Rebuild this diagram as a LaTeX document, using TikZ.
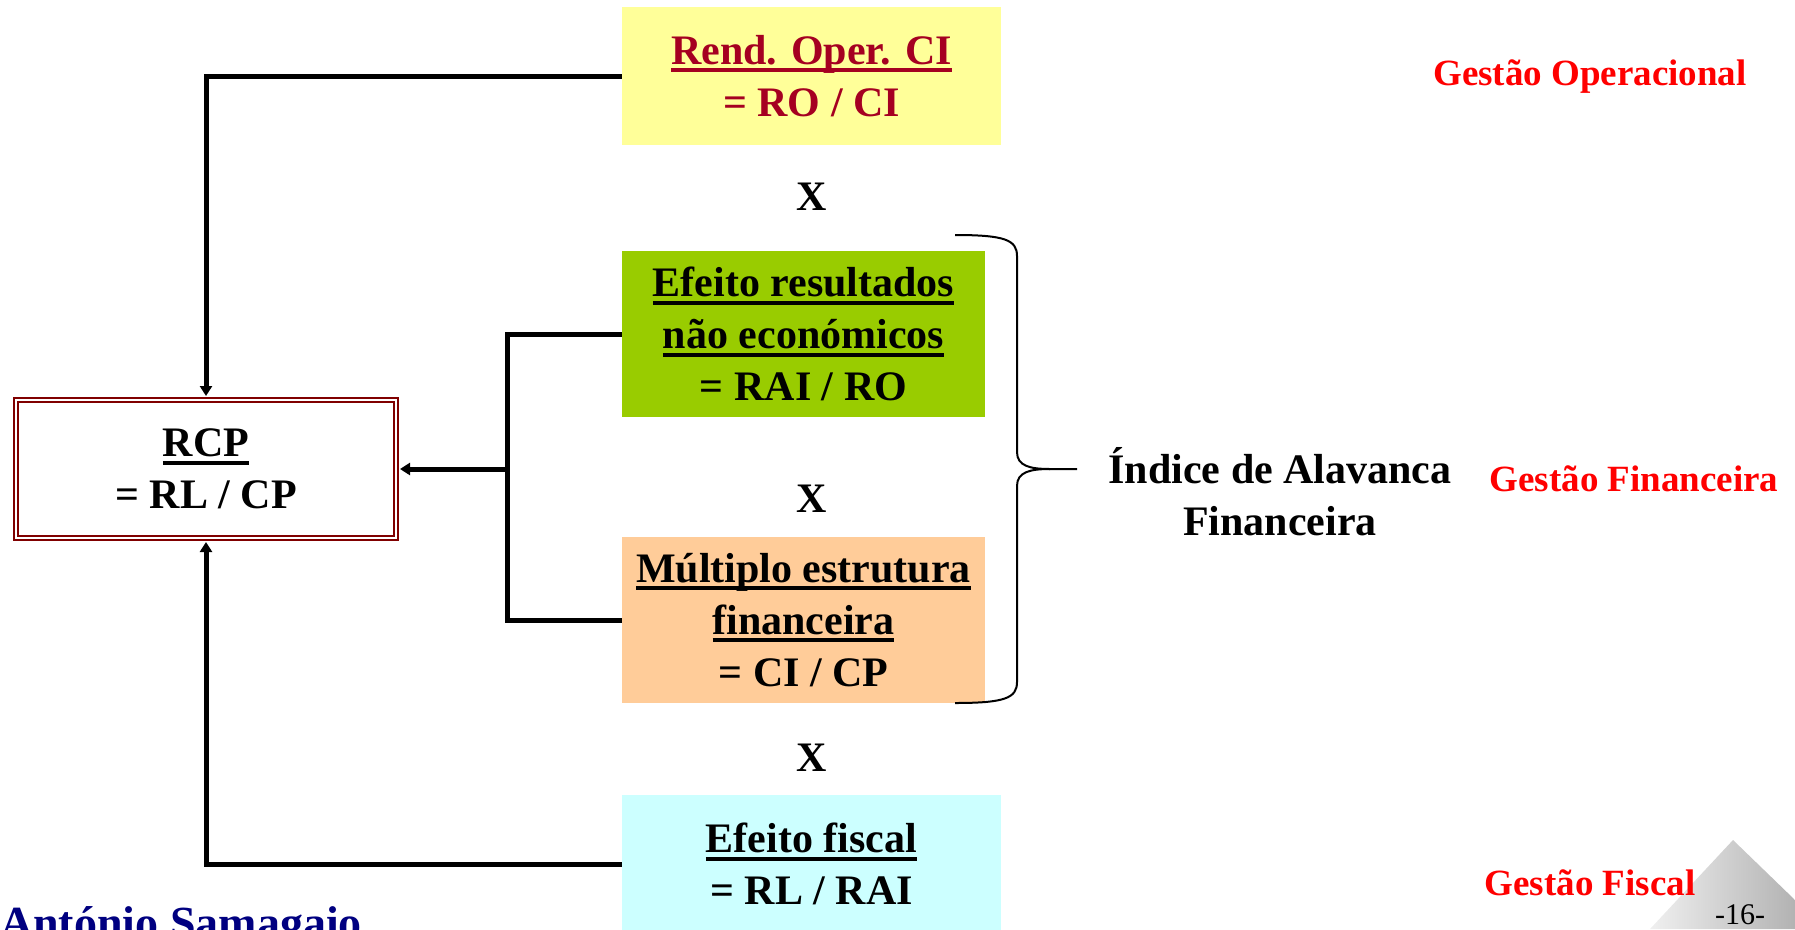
\documentclass[tikz,border=0pt]{standalone}
\usepackage{fontspec}
\setmainfont{Liberation Serif}
\usetikzlibrary{arrows.meta}

\definecolor{boxyellow}{HTML}{FFFF99}
\definecolor{boxgreen}{HTML}{99CC00}
\definecolor{boxorange}{HTML}{FFCC99}
\definecolor{boxcyan}{HTML}{CCFFFF}
\definecolor{winered}{HTML}{A50021}
\definecolor{framered}{HTML}{800000}
\definecolor{authornavy}{HTML}{000080}

% thick underline for the ratio titles
\newcommand{\ulin}[1]{\setbox0=\hbox{#1}\rlap{\rule[-8pt]{\wd0}{4pt}}\box0}

\begin{document}
\begin{tikzpicture}[x=1pt, y=-1pt,
  big/.style={font=\fontsize{42}{52}\selectfont\bfseries, align=center},
  ratiobox/.style={big, inner sep=0pt, minimum width=363pt, minimum height=166pt},
  widebox/.style={ratiobox, minimum width=379pt, minimum height=138pt},
  mgmt/.style={font=\fontsize{37}{44}\selectfont\bfseries, text=red},
  conn/.style={line width=5pt},
  arr/.style={conn, -{Triangle[length=10pt,width=12pt]}, shorten >=3pt}]

  \useasboundingbox (0,0) rectangle (1795,929);

  % page corner
  \shade[left color=gray!12, right color=gray!60] (1650,929) -- (1733,840) -- (1795,900) -- (1795,929) -- cycle;
  \node[font=\fontsize{30}{36}\selectfont] (page) at (1740,915) {-16-};

  % ratio boxes
  \node[widebox, fill=boxyellow, text=winered] (rend) at (811.5,76) {\ulin{Rend. Oper. CI}\\= RO / CI};
  \node[ratiobox, fill=boxgreen] (efres) at (803.5,334) {\ulin{Efeito resultados}\\\ulin{não económicos}\\= RAI / RO};
  \node[ratiobox, fill=boxorange] (mult) at (803.5,620) {\ulin{Múltiplo estrutura}\\\ulin{financeira}\\= CI / CP};
  \node[widebox, fill=boxcyan] (fisc) at (811.5,864) {\ulin{Efeito fiscal}\\= RL / RAI};

  % result box
  \node[big, inner sep=0pt, minimum width=380pt, minimum height=138pt,
        draw=framered, line width=2pt, double=white, double distance=2pt] (rcp) at (206,469) {\ulin{RCP}\\= RL / CP};

  % multiplication signs
  \node[big] (x1) at (812,197) {X};
  \node[big] (x2) at (812,499) {X};
  \node[big] (x3) at (812,758) {X};

  % connectors
  \coordinate (jn) at (507,469);
  \draw[arr] (rend.west) -| (rcp.north);
  \draw[arr] (fisc.west) -| (rcp.south);
  \draw[conn] (efres.west) -| (jn) |- (mult.west);
  \draw[arr] (jn) -- (rcp.east);

  % brace
  \draw[line width=2pt] (955,235) .. controls (1005,235) and (1017,240) .. (1017,256) -- (1017,452)
    .. controls (1017,466) and (1030,469) .. (1050,469) -- (1077,469);
  \draw[line width=2pt] (955,703) .. controls (1005,703) and (1017,698) .. (1017,682) -- (1017,486)
    .. controls (1017,472) and (1030,469) .. (1050,469);
  \node[big] (lev) at (1280,492) {Índice de Alavanca\\Financeira};

  % management areas
  \node[mgmt] (gop) at (1590,77) {Gestão Operacional};
  \node[mgmt] (gfin) at (1634,479) {Gestão Financeira};
  \node[mgmt] (gfis) at (1590,883) {Gestão Fiscal};

  % author
  \node[font=\fontsize{46}{52}\selectfont\bfseries, text=authornavy, anchor=base west, inner sep=0pt] (auth) at (0,938) {António Samagaio};

\end{tikzpicture}
\end{document}
